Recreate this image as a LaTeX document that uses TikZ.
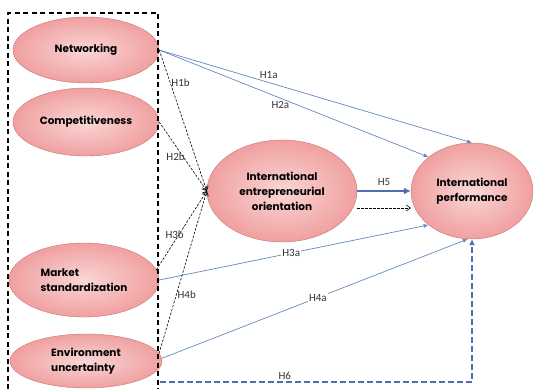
\documentclass[tikz,border=0pt]{standalone}
\usepackage{fontspec}
\setmainfont{Carlito}
\newfontfamily\constructfont{Poppins}
\usetikzlibrary{shapes.geometric,arrows.meta}
\definecolor{pinkin}{RGB}{250,214,214}
\definecolor{pinkout}{RGB}{240,160,160}
\definecolor{pinkline}{RGB}{200,115,115}
\definecolor{linkblue}{RGB}{100,135,192}
\definecolor{thickblue}{RGB}{74,112,176}
\tikzset{
  construct/.style={ellipse,draw=pinkline,inner color=pinkin,outer color=pinkout,
    inner sep=0pt,font=\constructfont\bfseries\fontsize{10.5}{15}\selectfont},
  direct/.style={draw=linkblue,line width=0.7pt,-{Latex[length=5pt,width=4pt]}},
  mediated/.style={dash pattern=on 2.5pt off 1.5pt,line width=0.6pt,-{Straight Barb[length=4pt,width=6pt]}},
  hyp/.style={font=\fontsize{11}{12}\selectfont,text=black!80,inner sep=1pt}
}
\begin{document}
\begin{tikzpicture}[x=1pt,y=-1pt]
        \useasboundingbox (0,0) rectangle (534,389);

        % факторы
        \node[construct,minimum width=146pt,minimum height=66pt,align=center] (net) at (86,50) {Networking};
        \node[construct,minimum width=146pt,minimum height=68pt,align=center] (comp) at (86,122) {Competitiveness};
        \node[construct,minimum width=150pt,minimum height=74pt,align=left] (mkt) at (84,280) {Market\\standardization};
        \node[construct,minimum width=152pt,minimum height=54pt,align=left] (env) at (86,361) {Environment\\uncertainty};

        % рамка вокруг факторов
        \draw[line width=1.3pt,dash pattern=on 5pt off 3.5pt] (8,389) -- (8,13) -- (158,13) -- (158,389);

        % посредник и результат
        \node[construct,minimum width=150pt,minimum height=102pt,align=center] (ieo) at (282,191) {International\\entrepreneurial\\orientation};
        \node[construct,minimum width=122pt,minimum height=96pt,align=center] (ip) at (472,191) {International\\performance};

        % прямые связи
        \draw[direct] (net.east) -- node[hyp,pos=0.35,above=3pt] {H1a} (ip.north);
        \draw[direct] (net.east) -- node[hyp,pos=0.45,below=2pt] {H2a} (ip.142);
        \draw[direct] (mkt.east) -- node[hyp,pos=0.49,fill=white] {H3a} (ip.218);
        \draw[direct] (env.2) -- node[hyp,pos=0.51,fill=white] {H4a} (ip.265);

        % связи через посредника
        \draw[mediated] (net.east) -- node[hyp,pos=0.23,right] {H1b} (ieo.west);
        \draw[mediated] (comp.east) -- node[hyp,pos=0.5,left=-3pt] {H2b} (ieo.west);
        \draw[mediated] (mkt.8) -- node[hyp,pos=0.45,left=-6pt] {H3b} (ieo.west);
        \draw[mediated] (env.6) -- node[hyp,pos=0.36,right] {H4b} (ieo.west);

        % H5
        \draw[draw=thickblue,line width=2.5pt,-{Latex[length=7pt,width=7pt]}] (ieo.east) -- node[hyp,above=3pt] {H5} (ip.west);
        \draw[mediated] ([yshift=-17pt]ieo.east) -- ([yshift=-17pt]ip.west);

        % H6
        \coordinate (h6s) at (160,382);
        \draw[draw=thickblue,line width=2pt,dash pattern=on 6pt off 3pt,-{Latex[length=6pt,width=6pt]}] (h6s) -| node[hyp,pos=0.2,above=0pt] {H6} (ip.south);
    \end{tikzpicture}
\end{document}
